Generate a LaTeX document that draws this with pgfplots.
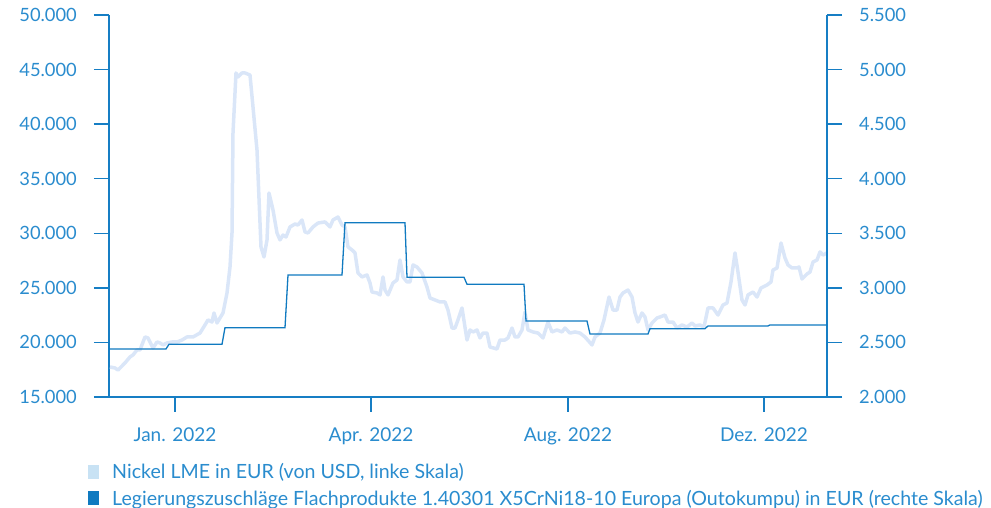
\documentclass[border=0pt]{standalone}
\usepackage{fontspec}
\setmainfont{Lato}
\usepackage{pgfplots}
\pgfplotsset{compat=1.18}
\definecolor{axisblue}{RGB}{22,126,196}
\definecolor{labelblue}{RGB}{42,140,206}
\definecolor{nickelc}{RGB}{218,230,248}
\definecolor{nickelleg}{RGB}{200,226,244}
\definecolor{stepc}{RGB}{16,122,192}
\newcommand{\numfont}{\fontsize{18.3}{22}\selectfont}
\newcommand{\datefont}{\fontsize{19}{22}\selectfont}
\newcommand{\legfont}{\fontsize{19.6}{23}\selectfont}
\begin{document}
\begin{tikzpicture}
\path[use as bounding box] (0,0) rectangle (991pt,508pt);
\pgfplotsset{
  common/.style={
    scale only axis, width=718pt, height=382pt,
    at={(109pt,111pt)}, anchor=south west,
    xmin=109, xmax=827,
    tick align=outside, major tick length=15pt,
    axis line style={color=axisblue, line width=1.5pt},
    every tick/.style={color=axisblue, line width=1.5pt},
    tick label style={text=labelblue, inner sep=0pt},
    yticklabel style={font=\numfont},
    xticklabel style={font=\datefont},
    yticklabel shift=17pt,
    scaled y ticks=false,
    /pgf/number format/.cd, fixed, 1000 sep={.}, assume math mode=true,
  },
}
\begin{axis}[common,
  ymin=15000, ymax=50000,
  axis x line*=bottom, axis y line*=left,
  ytick={15000,20000,...,50000},
  xtick={175,371,568,764},
  xticklabels={Jan. 2022,Apr. 2022,Aug. 2022,Dez. 2022},
  xticklabel shift=16pt,
]
\addplot[color=nickelc, line width=3.5pt, line join=round] coordinates {
(110,17750)(115,17660)(118,17470)(125,18120)(130,18670)(133,18850)(137,19310)(140,19310)
(145,20500)(148,20410)(153,19490)(157,20040)(160,19950)(163,19770)(167,19950)(172,20040)
(177,20040)(182,20220)(187,20500)(193,20500)(200,20860)(205,21600)(208,22060)(212,21870)
(214,22700)(217,21780)(220,22240)(223,22700)(227,24530)(230,26910)(232,30030)(233,39190)
(236,44690)(238,44320)(242,44690)(245,44690)(250,44500)(253,41570)(257,37630)(261,28750)
(264,27830)(267,29390)(269,33690)(273,32140)(277,30030)(280,29390)(283,29840)(286,29660)
(290,30580)(295,30850)(298,30760)(302,31220)(305,30120)(308,30030)(313,30580)(318,30940)
(325,31040)(330,30580)(333,31220)(338,31490)(342,30760)(345,30580)(348,28750)(352,28470)
(355,28200)(358,26360)(362,26000)(367,26180)(370,25450)(372,24620)(377,24530)(380,24350)
(383,26000)(385,24800)(388,24350)(393,25450)(397,25720)(400,27550)(403,26000)(407,25540)
(410,25540)(413,27100)(417,26910)(422,26360)(427,25080)(430,24070)(435,23890)(440,23710)
(445,23710)(448,22970)(452,21320)(455,21320)(458,22060)(462,23160)(467,20220)(470,21140)
(473,20960)(477,21140)(480,20410)(483,20860)(487,20860)(490,19580)(497,19400)(500,20220)
(505,20220)(508,20410)(512,21320)(515,20500)(518,20500)(522,21140)(525,22790)(528,21140)
(533,20960)(538,20860)(543,20410)(548,21870)(552,20960)(557,21140)(562,20960)(565,21320)
(570,20860)(575,20960)(580,20860)(585,20500)(592,19770)(595,20500)(600,20860)(604,22060)
(609,24160)(613,22970)(617,22970)(620,24160)(623,24530)(628,24800)(632,24160)(635,22700)
(638,21870)(642,22700)(645,22330)(648,21140)(652,21780)(657,22240)(660,22330)(665,22510)
(668,21870)(673,21870)(677,21320)(682,21600)(687,21410)(692,21780)(695,21510)(700,21600)
(704,21410)(708,23160)(713,23160)(718,22510)(723,23430)(727,23610)(731,25540)(735,28200)
(738,26450)(742,23890)(745,23430)(748,24350)(753,24620)(757,24160)(761,24990)(767,25260)
(771,25540)(773,26640)(777,26820)(781,29110)(785,27740)(788,27100)(792,26820)(797,26820)
(799,26910)(802,25810)(807,26270)(810,26450)(813,27370)(817,27550)(820,28290)(823,28010)
(827,28200)
};
\end{axis}
\begin{axis}[common,
  ymin=2000, ymax=5500,
  axis x line=none, axis y line*=right,
  ytick={2000,2500,...,5500},
  xtick=\empty,
  legend style={at={(-0.0292,-0.168)}, anchor=north west, draw=none, fill=none,
    inner sep=0pt, row sep=6pt, column sep=13pt, font=\legfont, text=labelblue,
    nodes={inner xsep=0pt, inner ysep=2pt}},
  legend cell align=left,
  legend image code/.code={\fill[#1] (0pt,-7pt) rectangle (11pt,7pt);},
]
\addplot[color=stepc, line width=1.3pt, forget plot] coordinates {
(109,2440)(166,2440)(169,2483)(222,2483)(225,2635)(285,2635)(288,3118)(342,3118)
(345,3597)(405,3597)(407,3097)(464,3097)(467,3033)(524,3033)(526,2696)(587,2696)
(590,2577)(648,2577)(650,2626)(705,2626)(708,2651)(768,2651)(770,2660)(827,2660)
};
\addlegendimage{fill=nickelleg, draw=none}
\addlegendentry{Nickel LME in EUR (von USD, linke Skala)}
\addlegendimage{fill=stepc, draw=none}
\addlegendentry{Legierungszuschläge Flachprodukte 1.40301 X5CrNi18-10 Europa (Outokumpu) in EUR (rechte Skala)}
\end{axis}
\end{tikzpicture}
\end{document}
